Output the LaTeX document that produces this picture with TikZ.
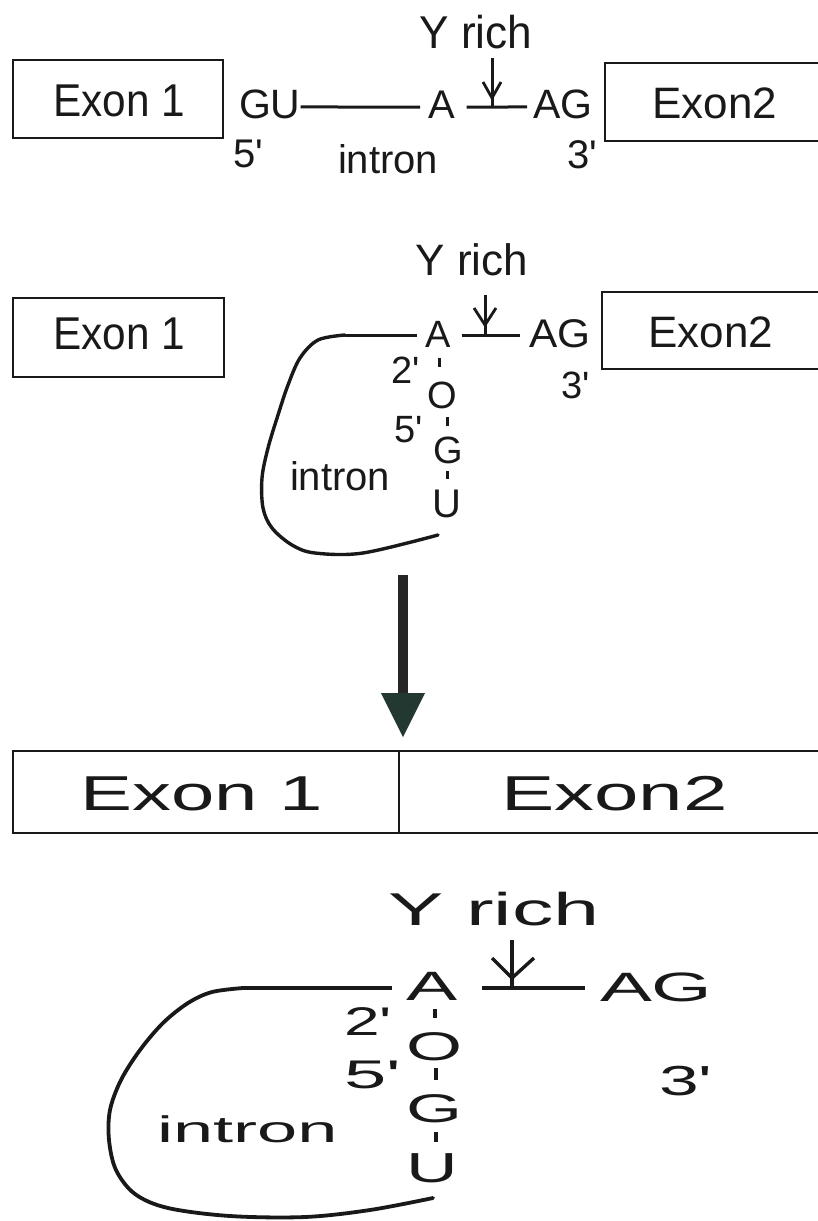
\documentclass[tikz,border=0pt]{standalone}
\usepackage{fontspec}
\setmainfont{Liberation Sans}[Ligatures=TeXOff]
\usetikzlibrary{calc}
\newcommand\fsz[1]{\fontsize{#1pt}{#1pt}\selectfont}
\tikzset{
  t/.style={inner sep=0pt, outer sep=0pt, anchor=base, text=black!90},
  tw/.style={inner sep=0pt, outer sep=0pt, anchor=base west, text=black!90},
  ln/.style={line width=3pt, draw=black!90},
  lnb/.style={line width=3.4pt, draw=black!90},
  bx/.style 2 args={draw=black!90, line width=2.6pt, inner sep=0pt, minimum width=#1, minimum height=#2},
  odash/.style={line width=3pt, draw=black!90},
  vhead/.style={line width=2.8pt, draw=black!90, line join=miter},
}
\begin{document}
\begin{tikzpicture}[x=1pt,y=-1pt]
\useasboundingbox (0,0) rectangle (818,1221);
\clip (0,0) rectangle (818,1221);
\fill[white] (0,0) rectangle (818,1221);

% ---------------- Section 1 ----------------
\node[bx={210pt}{78pt}] (box1a) at (118,99) {};
\node[t, font=\fsz{46}, xscale=0.92] (ex1a) at (119,116) {Exon 1};
\node[bx={240pt}{78pt}] (box2a) at (725,102) {};
\node[t, font=\fsz{44}] (ex2a) at (715,118) {Exon2};
\node[t, font=\fsz{46}, xscale=0.96] (yr1) at (476,48) {Y rich};
\node[tw, font=\fsz{41}] (gu1) at (239,118) {GU};
\node[tw, font=\fsz{40}] (a1) at (428,118) {A};
\node[tw, font=\fsz{41}] (ag1) at (533,118) {AG};
\node[tw, font=\fsz{40}] (p5a) at (233,167) {5'};
\node[tw, font=\fsz{40}] (in1) at (338,173) {intron};
\node[tw, font=\fsz{40}] (p3a) at (567,168) {3'};
\coordinate (m1) at (492,107);
\coordinate (tip1) at (492,98);
\draw[ln] ([yshift=-3pt]gu1.east) -- ([xshift=-8pt,yshift=-3pt]a1.west);
\draw[ln] ([xshift=12pt,yshift=-3pt]a1.east) -- ([xshift=-6pt,yshift=-3pt]ag1.west);
\draw[ln, shorten <=10pt] (yr1.south -| m1) -- (m1);
\draw[vhead] ($(tip1)+(-9,-16)$) -- (tip1) -- ($(tip1)+(9,-16)$);

% ---------------- Section 2 ----------------
\node[bx={211pt}{79pt}] (box1b) at (118.5,337.5) {};
\node[t, font=\fsz{46}, xscale=0.92] (ex1b) at (119,349) {Exon 1};
\node[bx={240pt}{77pt}] (box2b) at (722,330.5) {};
\node[t, font=\fsz{44}] (ex2b) at (711,347) {Exon2};
\node[t, font=\fsz{44}] (yr2) at (472,275) {Y rich};
\node[t, font=\fsz{38}] (a2) at (438,347) {A};
\node[tw, font=\fsz{40}, xscale=1.06] (ag2) at (529,347) {AG};
\node[tw, font=\fsz{38}] (p2b) at (391,383) {2'};
\node[t, font=\fsz{38}] (o2) at (442,408) {O};
\node[tw, font=\fsz{38}] (p5b) at (394,442) {5'};
\node[t, font=\fsz{38}] (g2) at (448,463) {G};
\node[t, font=\fsz{40}] (u2) at (447,517) {U};
\node[tw, font=\fsz{40}] (in2) at (290,490) {intron};
\node[tw, font=\fsz{38}] (p3b) at (561,398) {3'};
\coordinate (c2s) at (345,335);
\coordinate (c2e) at (438,535);
\coordinate (m2) at (485,335);
\coordinate (tip2) at (485,325);
\draw[ln] (c2s) -- ([xshift=-8pt]a2.west |- c2s);
\draw[ln] ([xshift=11pt]a2.east |- m2) -- ([xshift=-9pt]ag2.west |- m2);
\draw[ln, shorten <=20pt] (yr2.base -| m2) -- (m2);
\draw[vhead] ($(tip2)+(-11,-17)$) -- (tip2) -- ($(tip2)+(11,-17)$);
\draw[odash] (439,358) -- (439,367);
\draw[odash] (447,417) -- (447,426);
\draw[odash] (447,471) -- (447,479);
\draw[lnb, line cap=round] plot[smooth, tension=0.55] coordinates {(c2s) (318,340) (300,358) (288,385) (278,415) (268,448) (262,478) (263,508) (272,528) (292,545) (315,553) (363,553) (c2e)};

% ---------------- Big arrow ----------------
\coordinate (arT) at (403,575);
\coordinate (arB) at (403,693);
\fill[black!85] ($(arT)+(-5,0)$) rectangle ($(arB)+(5,0)$);
\fill[fill={rgb,255:red,36;green,56;blue,50}] ($(arB)+(-22,0)$) -- ($(arB)+(22,0)$) -- (403,737) -- cycle;

% ---------------- Section 3 (joined exons) ----------------
\node[bx={386pt}{82pt}] (box1c) at (206,792) {};
\node[bx={441pt}{82pt}] (box2c) at (619.5,792) {};
\node[t, font=\fsz{49}, xscale=1.59] (ex1c) at (202,810) {Exon 1};
\node[t, font=\fsz{49}, xscale=1.63] (ex2c) at (614.5,810) {Exon2};

% ---------------- Section 4 ----------------
\node[t, font=\fsz{46}, xscale=1.8] (yr3) at (494,925) {Y rich};
\node[t, font=\fsz{41}, xscale=1.87] (a3) at (432.5,1000) {A};
\node[tw, font=\fsz{41}, xscale=1.9] (ag3) at (600,1001) {AG};
\node[tw, font=\fsz{40}, xscale=1.6] (p2c) at (344,1035) {2'};
\node[t, font=\fsz{40}, xscale=1.8] (o3) at (434.5,1060) {O};
\node[tw, font=\fsz{40}, xscale=1.9] (p5c) at (344,1088) {5'};
\node[t, font=\fsz{40}, xscale=1.8] (g3) at (434.5,1122) {G};
\node[t, font=\fsz{42}, xscale=1.7] (u3) at (432,1182) {U};
\node[tw, font=\fsz{42}, xscale=1.7] (p3c) at (659,1095) {3'};
\node[tw, font=\fsz{37}, xscale=1.95] (in3) at (157,1142) {intron};
\coordinate (c3s) at (243,988);
\coordinate (c3e) at (433,1198);
\coordinate (m3) at (512,988);
\coordinate (tip3) at (512,978);
\draw[lnb] (c3s) -- ([xshift=-15pt]a3.west |- c3s);
\draw[lnb] ([xshift=24pt]a3.east |- m3) -- ([xshift=-15pt]ag3.west |- m3);
\draw[lnb, shorten <=15pt] (yr3.base -| m3) -- (m3);
\draw[vhead, line width=3.4pt] ($(tip3)+(-20,-20)$) -- (tip3) -- ($(tip3)+(22,-20)$);
\draw[odash, line width=4pt] (435,1009) -- (435,1018);
\draw[odash, line width=4pt] (436,1068) -- (436,1080);
\draw[odash, line width=4pt] (436,1132) -- (436,1142);
\draw[lnb, line width=3.8pt, line cap=round] plot[smooth, tension=0.55] coordinates {(c3s) (212,992) (188,1003) (163,1023) (140,1050) (121,1080) (110,1110) (109,1140) (116,1170) (135,1194) (168,1208) (230,1216) (305,1217) (370,1210) (c3e)};
\end{tikzpicture}
\end{document}
